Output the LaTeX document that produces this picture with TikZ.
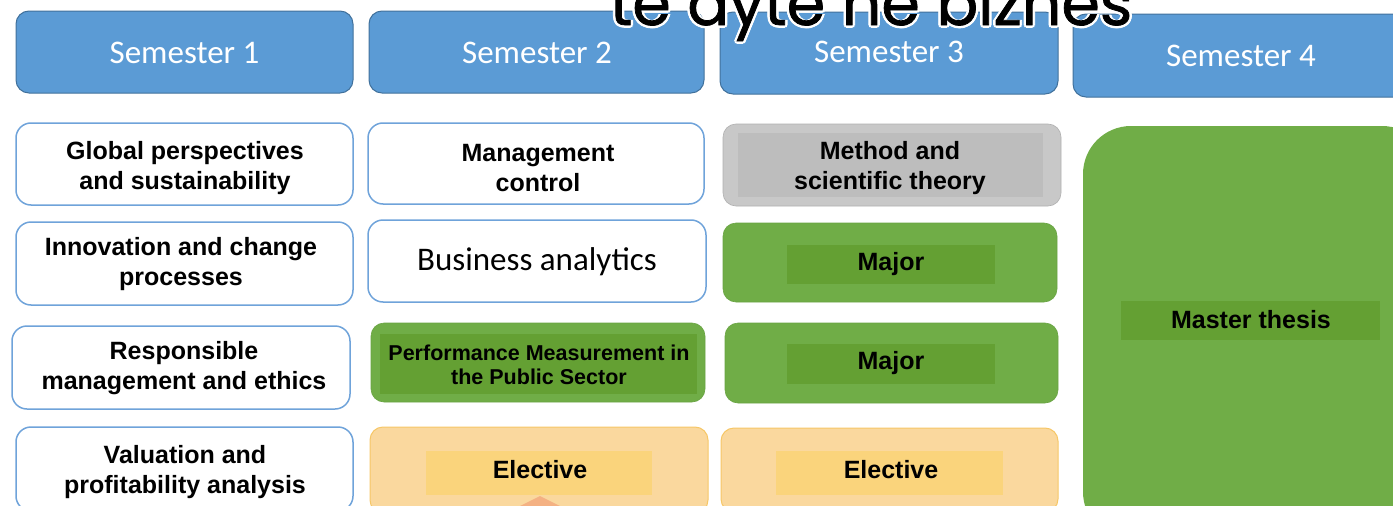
\documentclass[tikz,border=0pt]{standalone}
\usepackage{fontspec}
\setmainfont{Liberation Sans}
\newfontfamily\calib{Carlito}
\newfontfamily\popfont[FakeBold=1.2]{Poppins}
\definecolor{hdrfill}{HTML}{5B9BD5}
\definecolor{hdrdraw}{HTML}{41719C}
\definecolor{wbord}{HTML}{6FA3DA}
\definecolor{grn}{HTML}{70AD47}
\definecolor{grnin}{HTML}{64A033}
\definecolor{grnbord}{HTML}{6AA444}
\definecolor{gryout}{HTML}{C8C8C8}
\definecolor{gryin}{HTML}{BDBDBD}
\definecolor{grybord}{HTML}{B0B0B0}
\definecolor{orout}{HTML}{FAD89E}
\definecolor{orin}{HTML}{FAD47C}
\definecolor{orbord}{HTML}{F6C767}
\definecolor{salmon}{HTML}{F4B183}
\tikzset{
  hdr/.style={draw=hdrdraw, fill=hdrfill, line width=1pt, rounded corners=13pt, inner sep=0pt},
  wbox/.style={draw=wbord, fill=white, line width=1.5pt, rounded corners=15pt, inner sep=0pt},
  gbox/.style={draw=grnbord, fill=grn, line width=0.6pt, rounded corners=13pt, inner sep=0pt},
  grybox/.style={draw=grybord, fill=gryout, line width=0.6pt, rounded corners=13pt, inner sep=0pt},
  obox/.style={draw=orbord, fill=orout, line width=1pt, rounded corners=13pt, inner sep=0pt},
  inner/.style={inner sep=0pt, draw=none},
  hdrtxt/.style={text=white, font=\calib\fontsize{33}{36}\selectfont, inner sep=0pt},
  btxt/.style={font=\bfseries\fontsize{25}{30}\selectfont, align=center, inner sep=0pt, text=black},
  stxt/.style={font=\bfseries\fontsize{21.5}{24}\selectfont, align=center, inner sep=0pt, text=black},
  ttl/.style={anchor=base, inner sep=0pt, font=\popfont\fontsize{62}{62}\selectfont},
}
\begin{document}
\begin{tikzpicture}[x=1pt,y=-1pt]
\useasboundingbox (0,0) rectangle (1393,506);
\begin{scope}
\clip (0,0) rectangle (1393,506);
% headers
\node[hdr, minimum width=337, minimum height=82] (s1) at (184.5,52) {};
\node[hdr, minimum width=335, minimum height=82] (s2) at (536.5,52) {};
\node[hdr, minimum width=338, minimum height=82] (s3) at (889,53) {};
\node[hdr, minimum width=360, minimum height=83] (s4) at (1253,55.5) {};
% title (cut at top) with white halo
\foreach \dx/\dy in {-2.5/0,2.5/0,0/2.5,-1.8/1.8,1.8/1.8}
  \node[ttl, text=white] at (871+\dx,25+\dy) {te dyte ne biznes};
\node[ttl, text=black] (title) at (871,25) {te dyte ne biznes};
\node[hdrtxt] (s1t) at (184.5,53) {Semester 1};
\node[hdrtxt] (s2t) at (537,53) {Semester 2};
\node[hdrtxt] (s3t) at (889,52) {Semester 3};
\node[hdrtxt] (s4t) at (1241,56) {Semester 4};

% column 1
\node[wbox, minimum width=337, minimum height=82] (c11) at (184.5,164) {};
\node[wbox, minimum width=337, minimum height=83] (c12) at (184.5,263.5) {};
\node[wbox, minimum width=338, minimum height=83] (c13) at (181,367.5) {};
\node[wbox, minimum width=337, minimum height=84] (c14) at (184.5,469) {};
\node[btxt] (t11) at (185,168) {Global perspectives\\and sustainability};
\node[btxt] (t12) at (181,264) {Innovation and change\\processes};
\node[btxt] (t13) at (184,368) {Responsible\\management and ethics};
\node[btxt] (t14) at (185,472) {Valuation and\\profitability analysis};

% column 2
\node[wbox, minimum width=336, minimum height=81] (c21) at (536,163.5) {};
\node[wbox, minimum width=338, minimum height=82] (c22) at (537,261) {};
\node[gbox, minimum width=334, minimum height=79] (c23) at (538,362.5) {};
\node[inner, fill=grnin, minimum width=317, minimum height=60] (c23i) at (538.5,364) {};
\node[obox, minimum width=338, minimum height=86] (c24) at (539,470) {};
\node[inner, fill=orin, minimum width=226, minimum height=44] (c24i) at (539,473) {};
\fill[salmon] (518,507) -- (540,496) -- (562,507) -- cycle;
\node[btxt] (t21) at (538,168) {Management\\control};
\node[text=black, font=\calib\fontsize{33}{36}\selectfont, inner sep=0pt] (t22) at (537,262) {Business analytics};
\node[stxt] (t23) at (539,365) {Performance Measurement in\\the Public Sector};
\node[btxt] (t24) at (540,470) {Elective};

% column 3
\node[grybox, minimum width=338, minimum height=82] (c31) at (892,165) {};
\node[inner, fill=gryin, minimum width=305, minimum height=64] (c31i) at (890.5,165) {};
\node[gbox, minimum width=334, minimum height=79] (c32) at (890,262.5) {};
\node[inner, fill=grnin, minimum width=208, minimum height=39] (c32i) at (891,264.5) {};
\node[gbox, minimum width=333, minimum height=80] (c33) at (891.5,363) {};
\node[inner, fill=grnin, minimum width=208, minimum height=40] (c33i) at (891,364) {};
\node[obox, minimum width=337, minimum height=84] (c34) at (889.5,470) {};
\node[inner, fill=orin, minimum width=227, minimum height=44] (c34i) at (889.5,473) {};
\node[btxt] (t31) at (890,168) {Method and\\scientific theory};
\node[btxt] (t32) at (891,264) {Major};
\node[btxt] (t33) at (891,363) {Major};
\node[btxt] (t34) at (891,470) {Elective};

% column 4
\fill[grn, rounded corners=48pt] (1083,126) rectangle (1430,540);
\node[inner, fill=grnin, minimum width=259, minimum height=39] (c4i) at (1250.5,320.5) {};
\node[btxt] (t4) at (1251,320) {Master thesis};
\end{scope}
\end{tikzpicture}
\end{document}
